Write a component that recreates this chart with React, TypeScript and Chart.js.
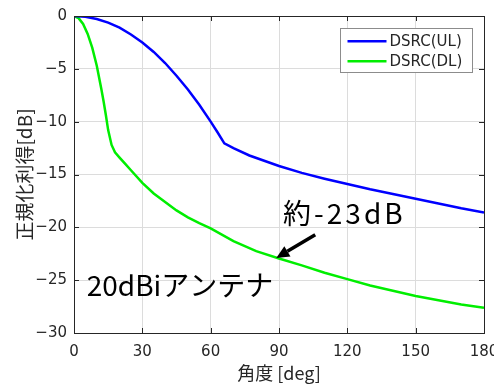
import { useEffect, useRef } from "react";
import { Chart, registerables } from "chart.js";

Chart.register(...registerables);

// ---- data ----
const ulAngles = [0, 5, 10, 15, 20, 25, 30, 35, 40, 45, 50, 55, 60, 63, 66, 70, 77, 90, 100, 110, 120, 130, 140, 150, 160, 170, 180];
const ulGain = [0, -0.07, -0.28, -0.63, -1.1, -1.75, -2.5, -3.4, -4.45, -5.65, -6.95, -8.4, -10.0, -11.0, -12.05, -12.5, -13.2, -14.2, -14.85, -15.4, -15.9, -16.4, -16.85, -17.3, -17.75, -18.2, -18.6];

const dlAngles = [0, 2, 4, 6, 8, 10, 12, 13, 14, 15, 16.5, 18, 20, 22.5, 25, 30, 35, 40, 45, 50, 55, 60, 70, 80, 90, 100, 110, 120, 130, 140, 150, 160, 170, 180];
const dlGain = [0, -0.2, -0.75, -1.7, -3.0, -4.7, -6.9, -8.1, -9.4, -10.8, -12.2, -12.9, -13.4, -14.0, -14.6, -15.8, -16.8, -17.6, -18.4, -19.05, -19.6, -20.1, -21.3, -22.25, -22.95, -23.6, -24.3, -24.9, -25.5, -26.0, -26.5, -26.9, -27.3, -27.6];

const seriesLabels = ["DSRC(UL)", "DSRC(DL)"];
const xTicks = [0, 30, 60, 90, 120, 150, 180];
const yTicks = [0, -5, -10, -15, -20, -25, -30];

const xTitle = "角度 [deg]";
const yTitle = "正規化利得[dB]";

const noteValue = "約-23dB";
const noteValuePos = [91.8, -18.65];
const noteAntenna = "20dBiアンテナ";
const noteAntennaPos = [5.6, -25.45];
const arrowTail = [105.9, -20.7];
const arrowTip = [88.8, -22.9];

const COLORS = ["#0000ff", "#00ee00"];
const AXIS = "#262626";
const GRID = "#dcdcdc";
const TICK_FONT = "DejaVu Sans";
const CJK = "'Noto Sans CJK JP', 'DejaVu Sans'";

const fmt = (v: number) => (v < 0 ? "\u2212" + Math.abs(v) : String(v));

const decorPlugin = {
  id: "decor",
  afterDraw(chart: any) {
    const { ctx, chartArea: a, scales } = chart;
    const xs = scales.x;
    const ys = scales.y;
    ctx.save();
    // frame
    ctx.strokeStyle = AXIS;
    ctx.lineWidth = 1;
    ctx.strokeRect(Math.round(a.left) + 0.5, Math.round(a.top) + 0.5, Math.round(a.right - a.left), Math.round(a.bottom - a.top));
    // inward ticks
    const tl = 5;
    ctx.beginPath();
    xTicks.forEach((t) => {
      const px = Math.round(xs.getPixelForValue(t)) + 0.5;
      ctx.moveTo(px, a.bottom);
      ctx.lineTo(px, a.bottom - tl);
      ctx.moveTo(px, a.top);
      ctx.lineTo(px, a.top + tl);
    });
    yTicks.forEach((t) => {
      const py = Math.round(ys.getPixelForValue(t)) + 0.5;
      ctx.moveTo(a.left, py);
      ctx.lineTo(a.left + tl, py);
      ctx.moveTo(a.right, py);
      ctx.lineTo(a.right - tl, py);
    });
    ctx.stroke();

    // legend
    const bw = 132, bh = 44;
    const bx = Math.round(a.right - 11.6 - bw) + 0.5;
    const by = Math.round(a.top + 12.3) + 0.5;
    ctx.fillStyle = "#ffffff";
    ctx.fillRect(bx, by, bw, bh);
    ctx.strokeStyle = "#8c8c8c";
    ctx.strokeRect(bx, by, bw, bh);
    ctx.font = `15px ${TICK_FONT}`;
    ctx.textBaseline = "middle";
    ctx.textAlign = "left";
    chart.data.datasets.forEach((ds: any, i: number) => {
      const cy = by + 12.7 + i * 20;
      ctx.strokeStyle = ds.borderColor;
      ctx.lineWidth = 2.5;
      ctx.beginPath();
      ctx.moveTo(bx + 7, cy);
      ctx.lineTo(bx + 46, cy);
      ctx.stroke();
      ctx.fillStyle = AXIS;
      ctx.fillText(ds.label, bx + 49, cy + 0.5);
    });

    // annotations
    ctx.fillStyle = "#000000";
    ctx.textBaseline = "middle";
    ctx.font = `28px ${CJK}`;
    (ctx as any).letterSpacing = "3px";
    ctx.fillText(noteValue, xs.getPixelForValue(noteValuePos[0]), ys.getPixelForValue(noteValuePos[1]));
    (ctx as any).letterSpacing = "0px";
    ctx.fillText(noteAntenna, xs.getPixelForValue(noteAntennaPos[0]), ys.getPixelForValue(noteAntennaPos[1]));

    // arrow
    const x1 = xs.getPixelForValue(arrowTail[0]);
    const y1 = ys.getPixelForValue(arrowTail[1]);
    const x2 = xs.getPixelForValue(arrowTip[0]);
    const y2 = ys.getPixelForValue(arrowTip[1]);
    const ang = Math.atan2(y2 - y1, x2 - x1);
    const hl = 13, hw = 6;
    const bxp = x2 - hl * Math.cos(ang);
    const byp = y2 - hl * Math.sin(ang);
    ctx.strokeStyle = "#000000";
    ctx.lineWidth = 3.5;
    ctx.beginPath();
    ctx.moveTo(x1, y1);
    ctx.lineTo(bxp, byp);
    ctx.stroke();
    ctx.beginPath();
    ctx.moveTo(x2, y2);
    ctx.lineTo(bxp + hw * Math.sin(ang), byp - hw * Math.cos(ang));
    ctx.lineTo(bxp - hw * Math.sin(ang), byp + hw * Math.cos(ang));
    ctx.closePath();
    ctx.fill();
    ctx.restore();
  },
};

export default function App() {
  const ref = useRef<HTMLCanvasElement | null>(null);
  useEffect(() => {
    document.body.style.margin = "0";
    const canvas = ref.current!;
    const chart = new Chart(canvas, {
      type: "line",
      data: {
        datasets: [
          {
            label: seriesLabels[0],
            data: ulAngles.map((x, i) => ({ x, y: ulGain[i] })),
            borderColor: COLORS[0],
            borderWidth: 2.5,
            pointRadius: 0,
            tension: 0,
            fill: false,
          },
          {
            label: seriesLabels[1],
            data: dlAngles.map((x, i) => ({ x, y: dlGain[i] })),
            borderColor: COLORS[1],
            borderWidth: 2.5,
            pointRadius: 0,
            tension: 0,
            fill: false,
          },
        ],
      },
      options: {
        animation: false,
        responsive: false,
        maintainAspectRatio: false,
        events: [],
        layout: { padding: { top: 16, right: 10, left: 0, bottom: 0 } },
        plugins: { legend: { display: false }, tooltip: { enabled: false } },
        scales: {
          x: {
            type: "linear",
            min: 0,
            max: 180,
            afterBuildTicks: (s: any) => {
              s.ticks = xTicks.map((v) => ({ value: v }));
            },
            afterFit: (s: any) => {
              s.height = 51;
              s.paddingLeft = 0;
              s.paddingRight = 0;
            },
            grid: { color: GRID, drawTicks: false, lineWidth: 1 },
            border: { display: false },
            ticks: {
              color: AXIS,
              font: { family: TICK_FONT, size: 15 },
              padding: 10,
              maxRotation: 0,
              autoSkip: false,
              callback: (v: any) => fmt(Number(v)),
            },
            title: {
              display: true,
              text: xTitle,
              color: AXIS,
              font: { family: CJK, size: 18 },
              padding: { top: 0, bottom: 0 },
            },
          },
          y: {
            type: "linear",
            min: -30,
            max: 0,
            afterBuildTicks: (s: any) => {
              s.ticks = yTicks.map((v) => ({ value: v }));
            },
            afterFit: (s: any) => {
              s.width = 74;
              s.paddingTop = 0;
              s.paddingBottom = 0;
            },
            grid: { color: GRID, drawTicks: false, lineWidth: 1 },
            border: { display: false },
            ticks: {
              color: AXIS,
              font: { family: TICK_FONT, size: 15 },
              padding: 7,
              autoSkip: false,
              callback: (v: any) => fmt(Number(v)),
            },
            title: {
              display: true,
              text: yTitle,
              color: AXIS,
              font: { family: CJK, size: 19 },
              padding: { top: 13, bottom: 0 },
            },
          },
        },
      },
      plugins: [decorPlugin],
    });
    return () => chart.destroy();
  }, []);
  return (
    <div style={{ width: 494, height: 384, position: "relative", background: "#fff" }}>
      <canvas ref={ref} width={494} height={384} style={{ display: "block", width: 494, height: 384 }} />
    </div>
  );
}
